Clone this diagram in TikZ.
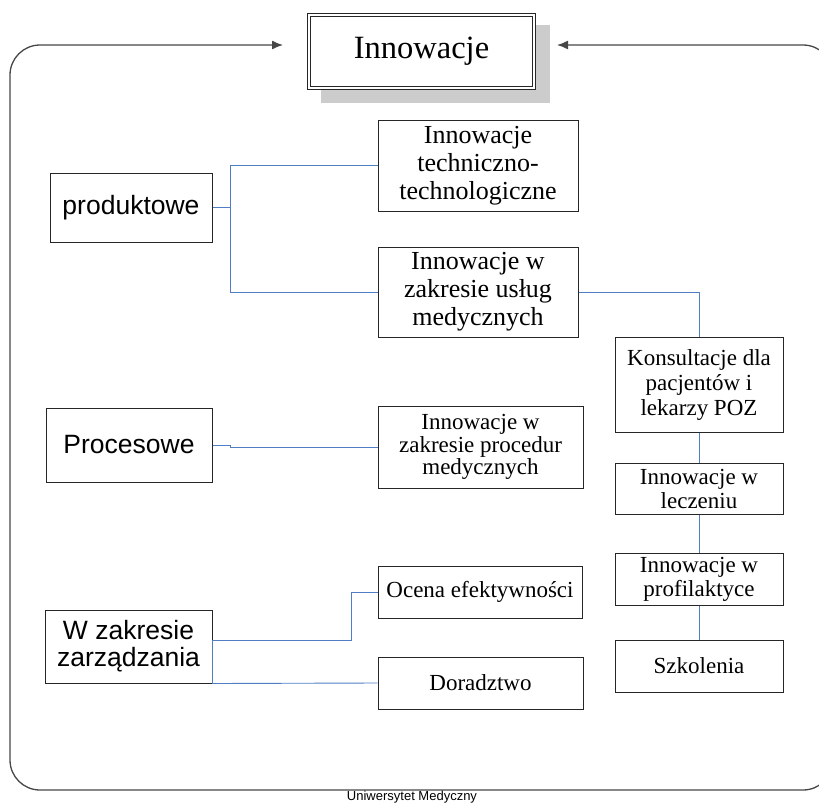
\documentclass[tikz,border=0pt]{standalone}
\usepackage{fontspec}
\setmainfont{Liberation Serif}
\newfontfamily\arialf{Liberation Sans}
\usetikzlibrary{arrows.meta}
\definecolor{conn}{HTML}{4F7EC4}
\begin{document}
\begin{tikzpicture}[x=1pt,y=-1pt,
  bx/.style={draw=black!85, line width=1pt, fill=white, inner sep=0pt, align=center},
  serA/.style={font=\fontsize{26}{28}\selectfont},
  serB/.style={font=\fontsize{23}{24}\selectfont},
  sans/.style={font=\arialf\fontsize{26.5}{27}\selectfont},
  cn/.style={draw=conn, line width=0.9pt},
  frame/.style={draw=black!72, line width=1.3pt, rounded corners=30pt}]
\useasboundingbox (0,0) rectangle (819,803);
\clip (0,0) rectangle (819,803);

% frame with arrows
\coordinate (aR) at (557,45);
\coordinate (aL) at (283,45);
\draw[frame, {Latex[length=11pt,width=9pt]}-{Latex[length=11pt,width=9pt]}]
  (aR) -- (833,45) -- (833,790) -- (10,790) -- (10,45) -- (aL);

% main title box
\fill[gray!40] (321,25) rectangle (550,103);
\node[draw=black!85, fill=white, double=white, double distance=2.6pt, line width=0.8pt,
      minimum width=225pt, minimum height=73pt, inner sep=0pt,
      font=\fontsize{32.5}{34}\selectfont] (main) at (421.5,51.5) {\raisebox{-2.5pt}{Innowacje}};

% left column
\node[bx, sans, minimum width=162pt, minimum height=69pt] (prod) at (131,207.5) {produktowe};
\node[bx, sans, minimum width=166pt, minimum height=74pt] (proc) at (129,445) {Procesowe};
\node[bx, sans, minimum width=167pt, minimum height=73pt] (zar) at (128.5,646.5) {W zakresie\\zarządzania};

% middle column
\node[bx, serA, minimum width=200pt, minimum height=91pt] (tech) at (478,165.5) {Innowacje\\techniczno-\\technologiczne};
\node[bx, serA, minimum width=200pt, minimum height=90pt] (uslug) at (478,292) {Innowacje w\\zakresie usług\\medycznych};
\node[bx, font=\fontsize{23}{22.5}\selectfont, minimum width=205pt, minimum height=82pt] (procmed) at (480.5,447) {Innowacje w\\zakresie procedur\\medycznych};
\node[bx, serB, minimum width=204pt, minimum height=52pt] (ocena) at (480,592) {Ocena efektywności};
\node[bx, serB, minimum width=205pt, minimum height=52pt] (dor) at (480.5,683) {Doradztwo};

% right column
\node[bx, font=\fontsize{23}{25}\selectfont, minimum width=168pt, minimum height=95pt] (kons) at (699,384.5) {Konsultacje dla\\pacjentów i\\lekarzy POZ};
\node[bx, serB, minimum width=168pt, minimum height=51pt] (lecz) at (699,488.5) {Innowacje w\\leczeniu};
\node[bx, serB, minimum width=168pt, minimum height=52pt] (prof) at (699,579) {Innowacje w\\profilaktyce};
\node[bx, serB, minimum width=168pt, minimum height=52pt] (szk) at (699,666) {Szkolenia};

% connectors
\draw[cn] (prod.east) -- ++(18,0) |- (tech.west);
\draw[cn] (prod.east) -- ++(18,0) |- (uslug.west);
\draw[cn] (uslug.east) -| (kons.north);
\draw[cn] (kons.south) -- (lecz.north);
\draw[cn] (lecz.south) -- (prof.north);
\draw[cn] (prof.south) -- (szk.north);
\draw[cn] (proc.east) -- ++(18,0) -- ++(0,2) -- (procmed.west);
\draw[cn] ([yshift=6.5pt]zar.east) -- ++(139,0) |- (ocena.west);
\draw[cn] ([yshift=6.5pt]zar.east) -- (zar.south east) -- (dor.west);

% footer
\node[font=\arialf\fontsize{13}{15}\selectfont, anchor=base, inner sep=0pt] (foot) at (412,800.5) {Uniwersytet Medyczny};
\end{tikzpicture}
\end{document}
